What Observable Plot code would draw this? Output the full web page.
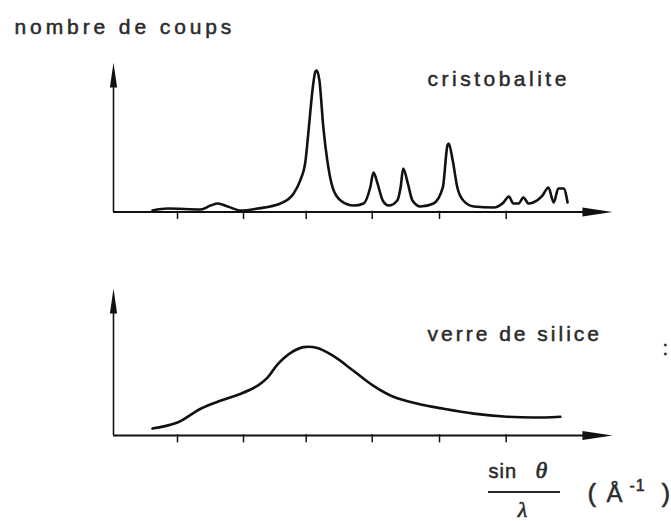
<!DOCTYPE html>
<html>
<head>
<meta charset="utf-8">
<script src="https://cdn.jsdelivr.net/npm/d3@7"></script>
<script src="https://cdn.jsdelivr.net/npm/@observablehq/plot@0.6"></script>
<style>
  body { margin: 0; background: #fff; }
  #wrap { position: relative; width: 671px; height: 521px; overflow: hidden; background: #fff; }
  #wrap svg { display: block; position: absolute; left: 0; }
  #wrap svg text { letter-spacing: 3.5px; }
  #wrap svg .wide text, #wrap svg text.wide { letter-spacing: 3.9px; }
  #wrap svg .mid text, #wrap svg text.mid { letter-spacing: 3px; }
  #wrap svg .tight text, #wrap svg text.tight { letter-spacing: 1px; }
  #wrap svg .nols text, #wrap svg text.nols { letter-spacing: 0px; }
</style>
</head>
<body>
<div id="wrap"></div>
<script>
// ---- texts ----
const titleText = "nombre de coups";
const panelLabels = ["cristobalite", "verre de silice"];
const xLabelNum = ["sin", "θ"];
const xLabelDen = "λ";
const xLabelUnit = ["(", "Å", "-1", ")"];

// ---- x tick positions (sin θ / λ, arbitrary units) ----
const tickValues = [1, 2, 2.95, 3.95, 4.97, 5.98];

// ---- cristobalite pattern ----
const cristoX = [0.62, 0.85, 1.35, 1.50, 1.61, 1.76, 1.96, 2.21, 2.56, 2.76, 2.86, 2.94, 2.99, 3.05, 3.09, 3.11, 3.15, 3.21, 3.27, 3.35, 3.47, 3.67, 3.82, 3.92, 3.97, 4.03, 4.11, 4.20, 4.33, 4.38, 4.42, 4.49, 4.56, 4.68, 4.88, 5.02, 5.09, 5.11, 5.17, 5.24, 5.33, 5.49, 5.79, 5.94, 6.02, 6.09, 6.17, 6.24, 6.32, 6.39, 6.53, 6.62, 6.70, 6.77, 6.85, 6.91];
const cristoY = [1.0, 2.3, 1.7, 4.3, 5.7, 3.7, 1.0, 2.3, 5.7, 12.4, 21.1, 34.4, 56.5, 83.3, 94.0, 94.6, 88.0, 56.5, 34.4, 16.4, 7.7, 4.3, 5.7, 16.4, 26.4, 19.1, 7.7, 4.3, 7.7, 16.4, 29.1, 19.1, 7.7, 3.7, 5.7, 16.4, 44.5, 45.8, 34.4, 16.4, 7.7, 3.7, 3.0, 6.4, 10.4, 5.7, 5.7, 9.7, 5.7, 6.4, 11.0, 16.4, 6.4, 15.7, 15.7, 6.4];

// ---- silica glass pattern ----
const silicaX = [0.62, 1.00, 1.35, 1.65, 1.96, 2.21, 2.36, 2.52, 2.71, 2.91, 3.12, 3.36, 3.67, 3.97, 4.27, 4.64, 5.03, 5.49, 5.99, 6.39, 6.80];
const silicaY = [4.7, 8.8, 18.2, 23.6, 28.4, 33.8, 39.2, 48.6, 56.1, 60.1, 59.5, 54.1, 43.9, 33.8, 26.4, 21.6, 18.2, 14.9, 12.8, 12.2, 12.8];

// ---- layout / style ----
const W = 671;
const xDomain = [0.0303, 7.5];
const xArrowEnd = 7.59;
const yDomain = [0, 100];
const ink = "#111";
const textInk = "#2a2a2a";
const sans = "'Liberation Sans', Arial, sans-serif";
const serif = "'Liberation Serif', 'DejaVu Serif', serif";

const headUp = { draw(ctx) { ctx.moveTo(0, 0); ctx.lineTo(3.6, 25); ctx.lineTo(-3.6, 25); ctx.closePath(); } };
const headRight = { draw(ctx) { ctx.moveTo(0, 0); ctx.lineTo(-30, 4.6); ctx.lineTo(-30, -4.6); ctx.closePath(); } };

function axesMarks() {
  return [
    Plot.ruleY([0], { x1: xDomain[0], x2: xArrowEnd - 0.3, stroke: ink, strokeWidth: 2 }),
    Plot.ruleX([xDomain[0]], { y1: 0, y2: yDomain[1] - 10, stroke: ink, strokeWidth: 1.6 }),
    Plot.dot([0], { x: () => xArrowEnd, y: 0, symbol: headRight, r: 5, fill: ink }),
    Plot.dot([0], { x: () => xDomain[0], y: yDomain[1], symbol: headUp, r: 5, fill: ink }),
    Plot.ruleX(tickValues, { x: d => d, y1: 0.5, y2: -5, stroke: ink, strokeWidth: 1.5 })
  ];
}

function labelText(str, opts) {
  return Plot.text([str], Object.assign({
    text: d => d, frameAnchor: "top-left", textAnchor: "start", lineAnchor: "bottom",
    fontSize: 21, fill: textInk, stroke: textInk, strokeWidth: 0.5
  }, opts));
}

const idx1 = d3.range(cristoX.length);
const topPlot = Plot.plot({
  width: W, height: 250,
  marginLeft: 113, marginRight: 65, marginTop: 62, marginBottom: 38.5,
  x: { domain: xDomain, axis: null },
  y: { domain: yDomain, axis: null },
  style: { fontFamily: sans, background: "transparent", overflow: "visible" },
  marks: [
    ...axesMarks(),
    Plot.line(idx1, { x: i => cristoX[i], y: i => cristoY[i], curve: "monotone-x", stroke: ink, strokeWidth: 2.6 }),
    labelText(titleText, { dx: -99, dy: -29, className: "wide" }),
    labelText(panelLabels[0], { dx: 314, dy: 23 })
  ]
});
topPlot.style.top = "0px";

const idx2 = d3.range(silicaX.length);
const bottomPlot = Plot.plot({
  width: W, height: 271,
  marginLeft: 113, marginRight: 65, marginTop: 38, marginBottom: 86,
  x: { domain: xDomain, axis: null },
  y: { domain: yDomain, axis: null },
  style: { fontFamily: sans, background: "transparent", overflow: "visible" },
  marks: [
    ...axesMarks(),
    Plot.line(idx2, { x: i => silicaX[i], y: i => silicaY[i], curve: "catmull-rom", stroke: ink, strokeWidth: 2.6 }),
    labelText(panelLabels[1], { dx: 314, dy: 52, className: "mid" }),
    labelText(":", { dx: 549, dy: 66, className: "nols", fontSize: 20 }),
    // x label: sin θ / λ  (Å-1)
    labelText(xLabelNum[0], { dx: 375, dy: 189, className: "tight", fontSize: 20 }),
    labelText(xLabelNum[1], { dx: 422, dy: 189, className: "nols", fontSize: 24, fontStyle: "italic", fontFamily: serif, strokeWidth: 0.6 }),
    (index, scales, values, dims) => {
      const y = dims.marginTop + 204;
      return d3.create("svg:line")
        .attr("x1", dims.marginLeft + 375).attr("x2", dims.marginLeft + 447)
        .attr("y1", y).attr("y2", y)
        .attr("stroke", textInk).attr("stroke-width", 2.2).node();
    },
    labelText(xLabelDen, { dx: 409, dy: 228, className: "nols", textAnchor: "middle", fontSize: 22, fontStyle: "italic", fontFamily: serif, strokeWidth: 0.6 }),
    labelText(xLabelUnit[0], { dx: 474, dy: 213, className: "nols", fontSize: 26 }),
    labelText(xLabelUnit[1], { dx: 493, dy: 213, className: "nols", fontSize: 24 }),
    labelText(xLabelUnit[2], { dx: 516, dy: 202, className: "tight", fontSize: 16 }),
    labelText(xLabelUnit[3], { dx: 548, dy: 213, className: "nols", fontSize: 26 })
  ]
});
bottomPlot.style.top = "250px";

const wrap = document.getElementById("wrap");
wrap.appendChild(topPlot);
wrap.appendChild(bottomPlot);
</script>
</body>
</html>
